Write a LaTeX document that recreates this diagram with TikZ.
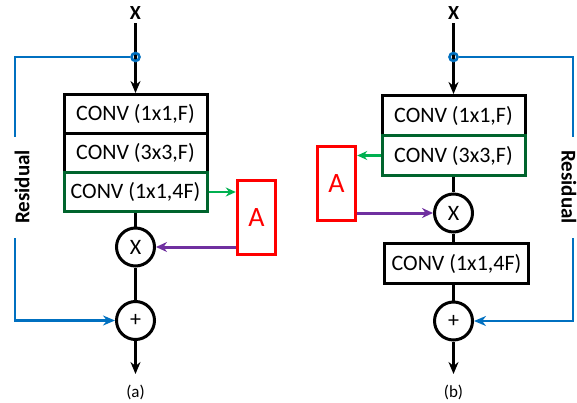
\documentclass[tikz,border=0pt]{standalone}
\usepackage{fontspec}
\setmainfont{Carlito}
\usetikzlibrary{arrows.meta}
\definecolor{resblue}{RGB}{0,112,192}
\definecolor{boxgreen}{RGB}{0,100,45}
\definecolor{arrgreen}{RGB}{0,176,80}
\definecolor{attpurple}{RGB}{112,48,160}
\definecolor{attred}{RGB}{255,0,0}

\begin{document}
\begin{tikzpicture}[x=1pt,y=-1pt,
    conv/.style={rectangle,draw,fill=white,line width=3pt,minimum width=143pt,minimum height=39pt,inner sep=0pt,font=\fontsize{22}{25}\selectfont},
    convg/.style={conv,draw=boxgreen},
    op/.style={circle,draw,line width=3pt,minimum size=38pt,inner sep=0pt,font=\fontsize{22}{25}\selectfont},
    splitdot/.style={circle,draw=resblue,line width=2.6pt,minimum size=8pt,inner sep=0pt},
    att/.style={rectangle,draw=attred,line width=3.4pt,minimum width=38pt,minimum height=74pt,inner sep=0pt,text=attred,font=\fontsize{28}{30}\selectfont},
    inp/.style={font=\bfseries\fontsize{20}{22}\selectfont},
    res/.style={font=\bfseries\fontsize{21}{24}\selectfont,inner sep=0pt},
    sublabel/.style={font=\fontsize{17}{20}\selectfont},
    flow/.style={line width=3pt},
    flowto/.style={flow,-{Stealth[length=12pt,width=10pt]}},
    skipline/.style={draw=resblue,line width=2.8pt},
    gatearrow/.style={draw=arrgreen,line width=2.6pt,-{Stealth[length=10pt,width=9pt]}},
    attarrow/.style={draw=attpurple,line width=3pt,-{Stealth[length=11pt,width=10pt]}}]
    \useasboundingbox (0,0) rectangle (577,403);
    % (a) attention after the last conv
    \node[inp] (xa) at (135.5,13) {X};
    \node[conv] (c1a) at (135.5,114) {CONV (1x1,F)};
    \node[conv] (c2a) at (135.5,153) {CONV (3x3,F)};
    \node[convg] (c3a) at (135.5,192) {CONV (1x1,4F)};
    \node[att] (aa) at (256.5,217.5) {A};
    \node[op] (ma) at (135.5,247) {X};
    \node[op] (pa) at (135.5,320.5) {+};
    \coordinate (oa) at (135.5,374);
    \node[res,rotate=90] (ra) at (22,187) {Residual};
    \coordinate (ra1) at (15,137);
    \coordinate (ra2) at (15,238);
    \node[sublabel] (la) at (135.5,392) {(a)};
    % links
    \draw[flowto] (xa.south) -- (c1a.north);
    \node[splitdot] (sa) at (135.5,57) {};
    \draw[skipline] (sa.west) -| (ra1);
    \draw[skipline,-{Stealth[length=12pt,width=10pt]}] (ra2) |- (pa.west);
    \draw[gatearrow] (c3a.east) -- (c3a.east -| aa.west);
    \draw[attarrow] (ma.east -| aa.west) -- (ma.east);
    \draw[flow] (c3a.south) -- (ma.north);
    \draw[flow] (ma.south) -- (pa.north);
    \draw[flowto] (pa.south) -- (oa);

    % (b) attention after the middle conv
    \node[inp] (xb) at (453.5,13) {X};
    \node[conv,minimum height=40pt] (c1b) at (453.5,115.5) {CONV (1x1,F)};
    \node[convg,minimum height=40pt] (c2b) at (453.5,155.5) {CONV (3x3,F)};
    \node[att] (ab) at (336.5,183.5) {A};
    \node[op] (mb) at (453.5,213) {X};
    \node[conv,minimum height=40pt,minimum width=144pt] (c3b) at (456.5,263.5) {CONV (1x1,4F)};
    \node[op] (pb) at (453.5,321) {+};
    \coordinate (ob) at (453.5,374);
    \node[res,rotate=-90] (rb) at (569,187) {Residual};
    \coordinate (rb1) at (573,137);
    \coordinate (rb2) at (573,238);
    \node[sublabel] (lb) at (453.5,392) {(b)};
    % links
    \draw[flowto] (xb.south) -- (c1b.north);
    \node[splitdot] (sb) at (453.5,57) {};
    \draw[skipline] (sb.east) -| (rb1);
    \draw[skipline,-{Stealth[length=12pt,width=10pt]}] (rb2) |- (pb.east);
    \draw[gatearrow] (c2b.west) -- (c2b.west -| ab.east);
    \draw[attarrow] (mb.west -| ab.east) -- (mb.west);
    \draw[flow] (c2b.south) -- (mb.north);
    \draw[flow] (mb.south) -- (mb.south |- c3b.north);
    \draw[flow] (pb.north |- c3b.south) -- (pb.north);
    \draw[flowto] (pb.south) -- (ob);
\end{tikzpicture}
\end{document}
